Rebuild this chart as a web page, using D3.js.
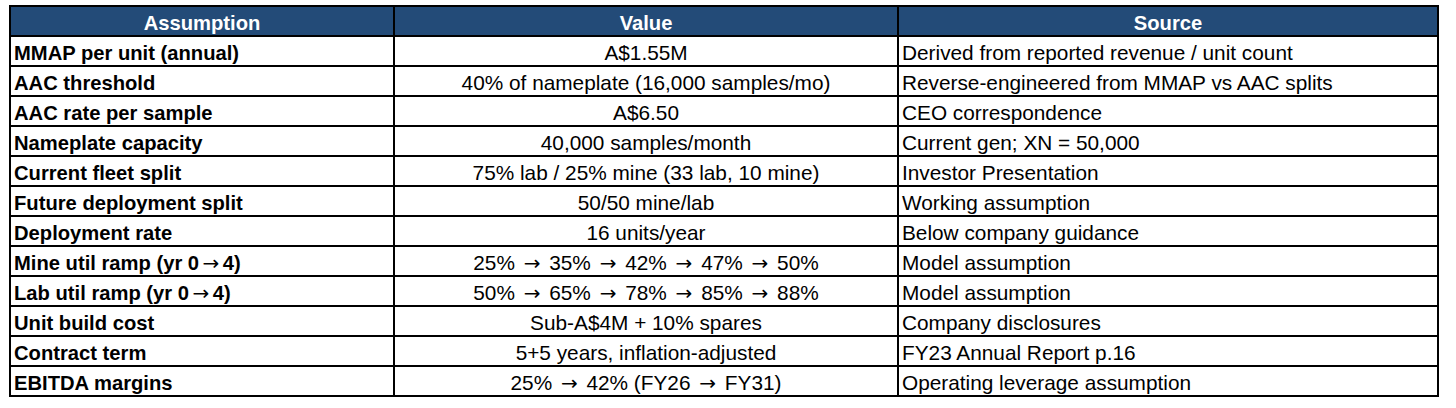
<!DOCTYPE html>
<html><head><meta charset="utf-8">
<script src="https://cdn.jsdelivr.net/npm/d3@7"></script>
<style>html,body{margin:0;padding:0;background:#fff;}</style>
</head><body>
<svg id="chart" width="1456" height="408"></svg>
<script>
const headers = ["Assumption", "Value", "Source"];
const assumptions = ["MMAP per unit (annual)","AAC threshold","AAC rate per sample","Nameplate capacity","Current fleet split","Future deployment split","Deployment rate","Mine util ramp (yr 0\u21924)","Lab util ramp (yr 0\u21924)","Unit build cost","Contract term","EBITDA margins"];
const values = ["A$1.55M","40% of nameplate (16,000 samples/mo)","A$6.50","40,000 samples/month","75% lab / 25% mine (33 lab, 10 mine)","50/50 mine/lab","16 units/year","25% \u2192 35% \u2192 42% \u2192 47% \u2192 50%","50% \u2192 65% \u2192 78% \u2192 85% \u2192 88%","Sub-A$4M + 10% spares","5+5 years, inflation-adjusted","25% \u2192 42% (FY26 \u2192 FY31)"];
const sources = ["Derived from reported revenue / unit count","Reverse-engineered from MMAP vs AAC splits","CEO correspondence","Current gen; XN = 50,000","Investor Presentation","Working assumption","Below company guidance","Model assumption","Model assumption","Company disclosures","FY23 Annual Report p.16","Operating leverage assumption"];

(function () {
const svg = d3.select("#chart");
const colEdges = [10, 394, 898, 1438];
const tableTop = 6, rowH = 30;
const nRows = assumptions.length + 1;
const y = d3.scaleLinear().domain([0, nRows]).range([tableTop, tableTop + nRows * rowH]);
const font = "'Liberation Sans', Arial, Helvetica, sans-serif";
const arrowFont = "'DejaVu Sans', sans-serif";
const fsReg = 20.8, fsBold = 20.2, baseOff = 23.5;

function fillText(sel, str, arrowSize, pad) {
  const parts = str.split("\u2192");
  parts.forEach((p, k) => {
    if (k > 0) sel.append("tspan").attr("font-family", arrowFont).attr("font-size", arrowSize)
      .attr("font-weight", "normal").attr("dx", pad).text("\u2192");
    if (p.length) sel.append("tspan").attr("dx", k > 0 ? pad : 0).text(p);
  });
}

svg.append("rect").attr("x", colEdges[0]).attr("y", y(0))
  .attr("width", colEdges[3] - colEdges[0]).attr("height", y(1) - y(0))
  .attr("fill", "#234b78");

headers.forEach((h, i) => {
  svg.append("text").attr("x", (colEdges[i] + colEdges[i+1]) / 2).attr("y", y(0) + baseOff)
    .attr("text-anchor", "middle")
    .attr("font-family", font).attr("font-size", fsBold).attr("font-weight", "bold")
    .attr("fill", "#fff").text(h);
});

const rows = assumptions.map((a, i) => ({a, v: values[i], s: sources[i], i}));
const g = svg.selectAll("g.row").data(rows).join("g").attr("class", "row");
g.append("text").attr("x", colEdges[0] + 4).attr("y", d => y(d.i + 1) + baseOff)
  .attr("font-family", font).attr("font-size", fsBold).attr("font-weight", "bold").attr("fill", "#000")
  .each(function (d) { fillText(d3.select(this), d.a, 20, 3.5); });
g.append("text").attr("x", (colEdges[1] + colEdges[2]) / 2).attr("y", d => y(d.i + 1) + baseOff)
  .attr("text-anchor", "middle")
  .attr("font-family", font).attr("font-size", fsReg).attr("fill", "#000")
  .each(function (d) { fillText(d3.select(this), d.v, 20, 3); });
g.append("text").attr("x", colEdges[2] + 4).attr("y", d => y(d.i + 1) + baseOff)
  .attr("font-family", font).attr("font-size", fsReg).attr("fill", "#000")
  .text(d => d.s);

d3.range(nRows + 1).forEach(r => {
  svg.append("line").attr("x1", colEdges[0] - 1).attr("x2", colEdges[3] + 1)
    .attr("y1", y(r)).attr("y2", y(r)).attr("stroke", "#000").attr("stroke-width", 2);
});
colEdges.forEach(x => {
  svg.append("line").attr("x1", x).attr("x2", x).attr("y1", y(0) - 1).attr("y2", y(nRows) + 1)
    .attr("stroke", "#000").attr("stroke-width", 2);
});
})();
</script>
</body></html>
